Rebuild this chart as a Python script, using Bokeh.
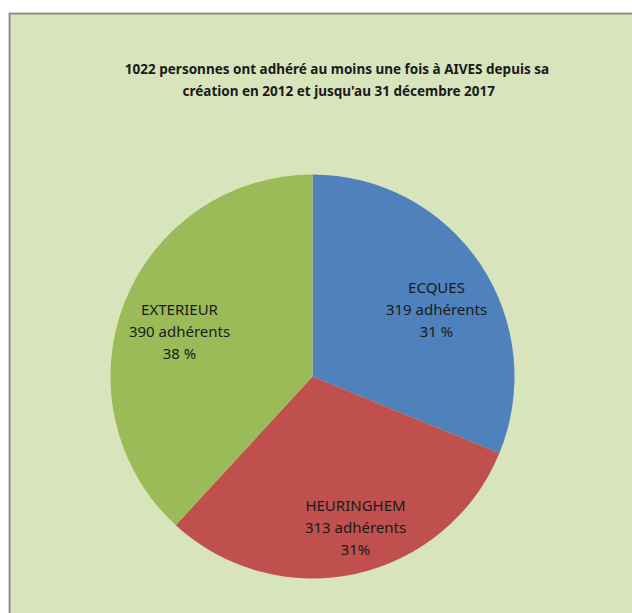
from math import pi
from bokeh.plotting import figure
from bokeh.models import Range1d, ColumnDataSource
from bokeh.core.properties import value
from bokeh.embed import file_html
from bokeh.resources import INLINE

# ---- data ----
categories = ["ECQUES", "HEURINGHEM", "EXTERIEUR"]
members = [319, 313, 390]
pct_labels = ["31 %", "31%", "38 %"]
colors = ["#4F81BD", "#C0504D", "#9BBB59"]
title_lines = ["1022 personnes ont  adhéré au moins une fois à  AIVES depuis sa",
               "création en 2012 et jusqu'au  31 décembre 2017"]

W, H = 624, 601
BG = "#D8E4BC"
p = figure(width=W, height=H, output_backend="svg", toolbar_location=None,
           x_range=Range1d(0, W), y_range=Range1d(0, H),
           min_border=0, background_fill_color=BG, border_fill_color=BG,
           outline_line_color=None)
p.margin = (12, 0, 0, 8)
p.axis.visible = False
p.grid.visible = False

# frame border (left & top)
p.segment(x0=[1, 0], y0=[0, H - 1], x1=[1, W], y1=[H, H - 1], line_color="#8a8a8a", line_width=2)

# pie
cx, cy, r = 304, 237, 202
total = sum(members)
starts, ends = [], []
acc = 0.0
for m in members:
    a0 = pi / 2 - 2 * pi * acc / total
    acc += m
    a1 = pi / 2 - 2 * pi * acc / total
    starts.append(a1)
    ends.append(a0)
src = ColumnDataSource(dict(start=starts, end=ends, color=colors))
p.wedge(x=cx, y=cy, radius=r, start_angle="start", end_angle="end",
        fill_color="color", line_color=None, source=src)

# title
p.text(x=[332, 332], y=[545, 523], text=title_lines, text_align="center",
       text_baseline="middle", text_font=value("Noto Sans"), text_font_style="bold",
       text_font_size="13.5px", text_color="#1a1a1a")

# slice labels
label_pos = [(428, 305), (347, 87), (171, 283)]
lx, ly, lt = [], [], []
for (x, y), c, m, pc in zip(label_pos, categories, members, pct_labels):
    for k, t in enumerate([c, f"{m} adhérents", pc]):
        lx.append(x)
        ly.append(y + 22 - 22 * k)
        lt.append(t)
p.text(x=lx, y=ly, text=lt, text_align="center", text_baseline="middle",
       text_font=value("Noto Sans"), text_font_size="15px", text_color="#1a1a1a")

open("out.html", "w").write(file_html(p, INLINE))
